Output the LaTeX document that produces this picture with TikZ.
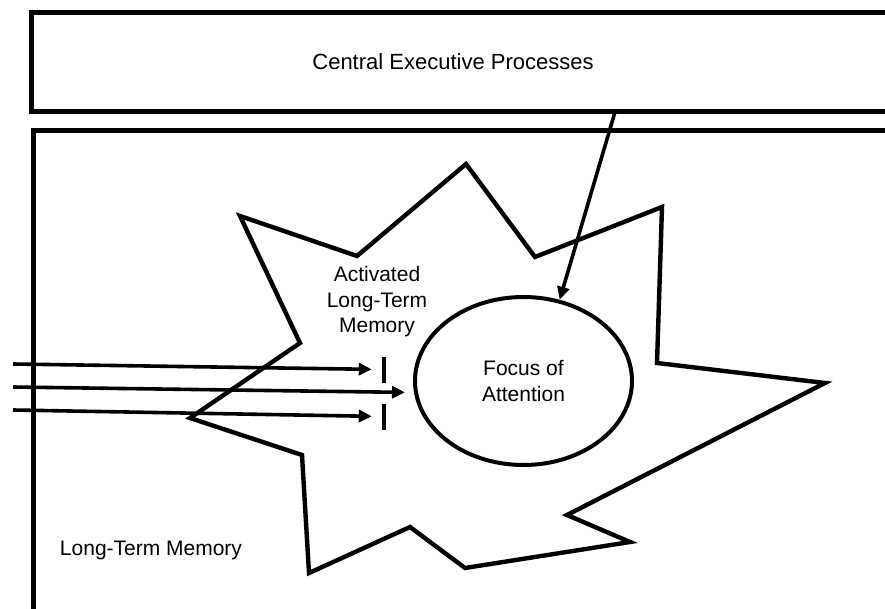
\documentclass[tikz,border=0pt]{standalone}
\usepackage{fontspec}
\setmainfont{Liberation Sans}
\usetikzlibrary{shapes.geometric,arrows.meta}

\begin{document}
\begin{tikzpicture}[x=1pt,y=-1pt,
  boxline/.style={draw=black,line width=5pt},
  burst/.style={draw=black,line width=4.4pt,line join=miter},
  txt/.style={font=\fontsize{21}{25.5}\selectfont,align=center,inner sep=0pt},
  flow/.style={draw=black,line width=3.6pt,-{Triangle[length=13pt,width=12pt]}},
  gate/.style={fill=black,minimum width=4pt,minimum height=26pt,inner sep=0pt}]

\useasboundingbox[fill=white] (0,0) rectangle (885,609);

% central executive box
\draw[boxline] (31,13) rectangle (895,112);
\node[txt, font=\fontsize{22}{26}\selectfont] (ceptext) at (453,62) {Central Executive Processes};

% long-term memory box
\draw[boxline] (33,131) rectangle (895,611);
\node[txt] (ltm) at (151,550) {Long-Term Memory};

% activated region
\draw[burst] (240,216) -- (357,256) -- (466,164) -- (535,257) -- (662,207)
  -- (657,363) -- (825,383) -- (567,515) -- (630,542) -- (465,568)
  -- (410,527) -- (309,573) -- (302,455) -- (190,418) -- (300,343) -- cycle;
\node[txt] (altm) at (377,302) {Activated\\Long-Term\\Memory};

% focus of attention
\node[txt, draw=black, ellipse, line width=4pt, minimum width=217pt,
  minimum height=168pt] (foc) at (523.5,381) {Focus of\\Attention};

% control from the central executive
\coordinate (cepout) at (615,112);
\draw[flow] (cepout) -- (foc.66);

% incoming items and gates
\node[gate] (g1) at (384,369.5) {};
\node[gate] (g2) at (384,416.5) {};
\coordinate (in1) at (13,364);
\coordinate (in2) at (13,387);
\coordinate (in3) at (13,410);
\draw[flow, shorten >=10pt] (in1) -- (g1.west);
\draw[flow, shorten >=9pt] (in2) -- (foc.186);
\draw[flow, shorten >=10pt] (in3) -- (g2.west);
\end{tikzpicture}
\end{document}
